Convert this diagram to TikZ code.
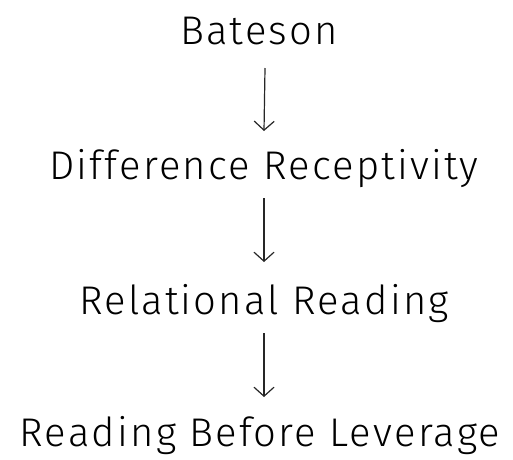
\documentclass[tikz,border=0pt]{standalone}
\usepackage{fontspec}
\setmainfont{Fira Sans Light}[LetterSpace=5.5]
\usetikzlibrary{arrows.meta}
\begin{document}
\begin{tikzpicture}[x=1pt,y=-1pt,
  lbl/.style={anchor=base,inner sep=0pt,font=\fontsize{40}{44}\selectfont,text=black},
  conn/.style={line width=1.2pt,draw=black!85,-{Straight Barb[length=9pt,width=20pt,line width=1.2pt]}}]
\useasboundingbox (0,0) rectangle (513,459);
\node[lbl] (b) at (259,44) {Bateson};
\node[lbl] (d) at (264,179) {Difference Receptivity};
\node[lbl] (r) at (264,314) {Relational Reading};
\node[lbl] (l) at (260,446) {Reading Before Leverage};
\draw[conn] ([xshift=6pt,yshift=-24pt]b.base) -- ([yshift=48pt]d.base);
\draw[conn] ([yshift=-19pt]d.base) -- ([yshift=52pt]r.base);
\draw[conn] ([yshift=-19pt]r.base) -- ([xshift=4pt,yshift=49pt]l.base);
\end{tikzpicture}
\end{document}
